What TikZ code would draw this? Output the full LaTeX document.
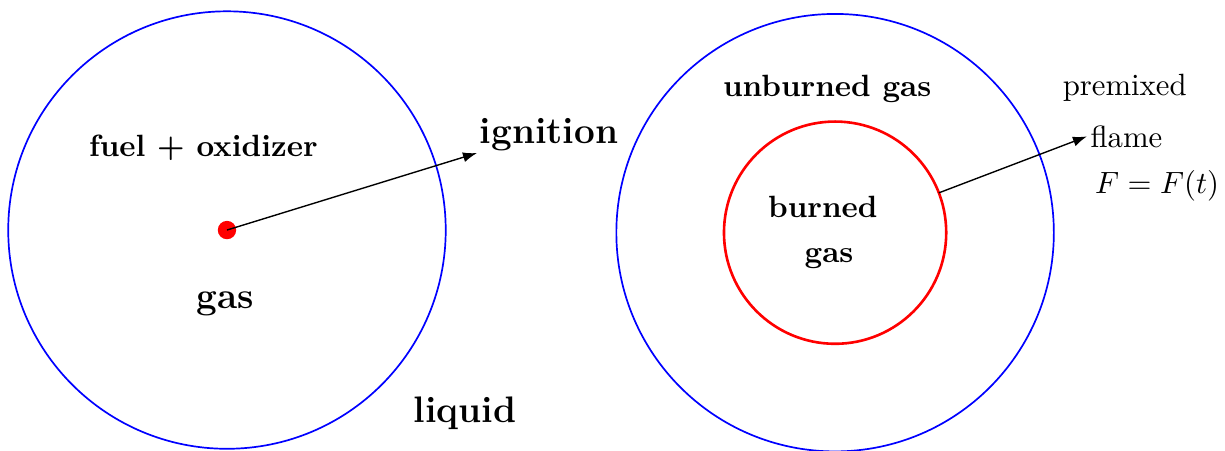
\documentclass[tikz,border=0pt]{standalone}
\usepackage{amsmath,amssymb}
\usetikzlibrary{positioning,arrows.meta,calc}

\begin{document}
\begin{tikzpicture}[
  lbl/.style={font=\bfseries, inner sep=1pt},
  biglbl/.style={font=\large\bfseries, inner sep=1pt},
  plainlbl/.style={inner sep=1pt},
  bluering/.style={circle, draw=blue, line width=0.55pt, minimum size=5cm, inner sep=0pt, outer sep=0pt},
  redring/.style={circle, draw=red, line width=0.85pt, minimum size=2.54cm, inner sep=0pt, outer sep=0pt},
  spark/.style={circle, fill=red, minimum size=2.1mm, inner sep=0pt},
  arr/.style={-{Latex[length=1.6mm,width=1.15mm]}, line width=0.45pt}
]
\useasboundingbox (-2.594,-2.514) rectangle (11.406,2.629);

\node[bluering] (drop) at (0,0) {};
\node[bluering] (front) at (6.95,-0.03) {};
\node[redring] (burnt) at (6.95,-0.03) {};
\node[spark] (dot) at (0,0) {};
\coordinate (igtip) at (2.857,0.88);
\draw[arr] (dot.center) -- (igtip);

\node[lbl] (fuel) at (-0.27,0.94) {fuel + oxidizer};
\node[biglbl] (ign) at (3.68,1.09) {ignition};
\node[biglbl] (gasl) at (-0.02,-0.84) {gas};
\node[biglbl] (liq) at (2.72,-2.09) {liquid};
\node[lbl] (unb) at (6.86,1.61) {unburned gas};
\node[lbl] (brn) at (6.81,0.27) {burned};
\node[lbl] (brngas) at (6.88,-0.33) {gas};
\node[plainlbl] (premix) at (10.26,1.62) {premixed};
\node[plainlbl] (flame) at (10.28,1.07) {flame};
\node[plainlbl] (Ft) at (10.63,0.51) {$F = F(t)$};
\draw[arr] (burnt.21) -- (flame.west);

\end{tikzpicture}
\end{document}
